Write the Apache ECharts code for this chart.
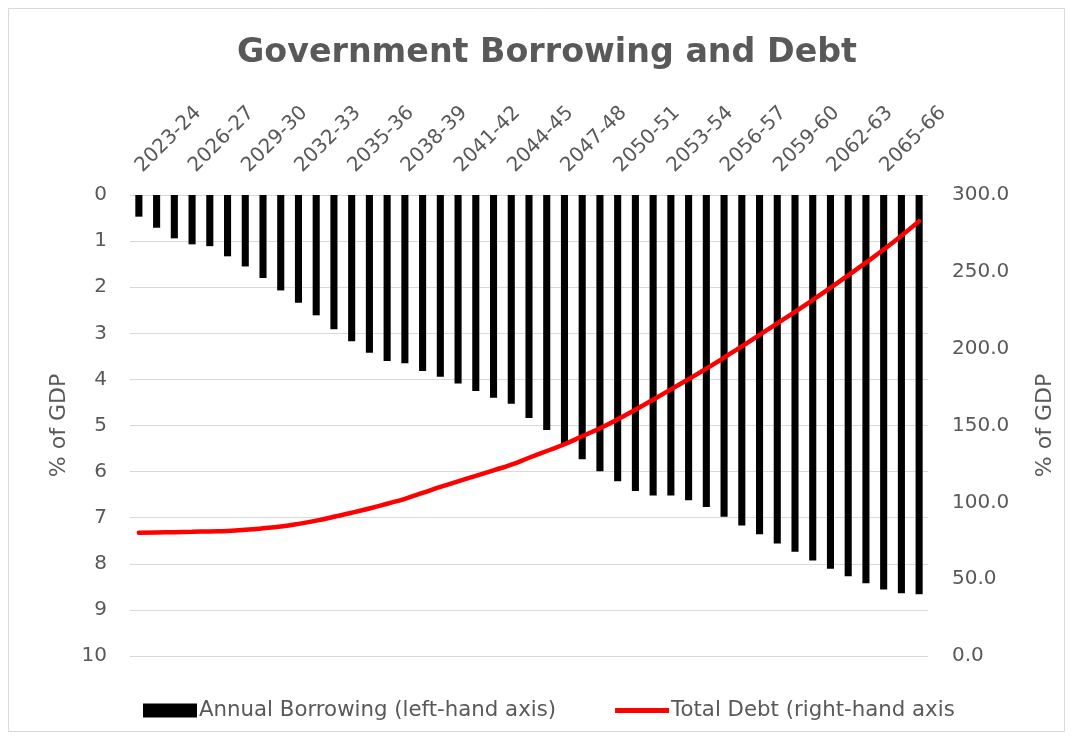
<!DOCTYPE html>
<html>
<head>
<meta charset="utf-8">
<script src="https://cdn.jsdelivr.net/npm/echarts@6/dist/echarts.min.js"></script>
<style>
html,body{margin:0;padding:0;background:#fff;}
#chart{width:1073px;height:740px;}
</style>
</head>
<body>
<div id="chart"></div>
<script>
const categories = ["2023-24","2024-25","2025-26","2026-27","2027-28","2028-29","2029-30","2030-31","2031-32","2032-33","2033-34","2034-35","2035-36","2036-37","2037-38","2038-39","2039-40","2040-41","2041-42","2042-43","2043-44","2044-45","2045-46","2046-47","2047-48","2048-49","2049-50","2050-51","2051-52","2052-53","2053-54","2054-55","2055-56","2056-57","2057-58","2058-59","2059-60","2060-61","2061-62","2062-63","2063-64","2064-65","2065-66","2066-67","2067-68"];
const annualBorrowing = [0.47,0.71,0.94,1.07,1.11,1.33,1.55,1.80,2.07,2.34,2.61,2.91,3.17,3.42,3.60,3.65,3.82,3.94,4.09,4.25,4.40,4.53,4.84,5.10,5.40,5.73,5.99,6.21,6.42,6.52,6.52,6.62,6.77,6.98,7.17,7.36,7.56,7.74,7.93,8.11,8.27,8.42,8.56,8.64,8.66];
const totalDebt = [80.2,80.4,80.6,80.8,81.1,81.4,82.1,83.1,84.3,86.0,88.1,90.6,93.2,96.0,99.1,102.3,106.1,110.0,113.7,117.2,120.8,124.5,129.0,133.4,137.8,143.0,148.2,154.0,160.3,166.8,173.5,180.2,187.0,194.2,201.5,209.0,216.5,224.0,231.7,239.6,247.7,256.0,264.5,273.5,283.0];
const titleText = "Government Borrowing and Debt";
const leftAxisName = "% of GDP";
const rightAxisName = "% of GDP";
const seriesNames = ["Annual Borrowing (left-hand axis)", "Total Debt (right-hand axis"];

const FONT = "DejaVu Sans";
const GREY = "#595959";
const chart = echarts.init(document.getElementById('chart'), null, {renderer:'canvas'});
chart.setOption({
  backgroundColor: '#fff',
  animation: false,
  textStyle: {fontFamily: FONT, color: GREY},
  title: {
    text: titleText, left: 237, top: 37, padding: 0,
    textStyle: {fontFamily: FONT, fontWeight: 'bold', fontSize: 33.3, color: GREY}
  },
  graphic: [{
    type: 'rect', shape: {x: 8.5, y: 8.5, width: 1056, height: 723},
    style: {fill: 'none', stroke: '#d9d9d9', lineWidth: 1}, silent: true
  }],
  legend: {
    bottom: 14, left: 138,
    itemGap: 59, itemWidth: 54, itemHeight: 14,
    textStyle: {fontFamily: FONT, fontSize: 21.3, color: GREY, padding: [0,0,0,-3]},
    data: [
      {name: seriesNames[0], icon: 'rect', itemStyle: {color: '#000', borderWidth: 0}},
      {name: seriesNames[1], icon: 'path://M0,0 M0,4.5 L54,4.5 L54,9.5 L0,9.5 Z M54,14', itemStyle: {color: '#ff0000', borderWidth: 0}}
    ]
  },
  grid: {left: 130, right: 145, top: 195, bottom: 84, containLabel: false},
  xAxis: {
    type: 'category', position: 'top', data: categories,
    axisLine: {show: false}, axisTick: {show: false},
    axisLabel: {interval: 2, rotate: 45, fontSize: 20, color: GREY, fontFamily: FONT, margin: 26}
  },
  yAxis: [{
    type: 'value', inverse: true, min: 0, max: 10, interval: 1,
    name: leftAxisName, nameLocation: 'middle', nameGap: 54, nameRotate: 90,
    nameTextStyle: {fontSize: 22, color: GREY, fontFamily: FONT},
    axisLine: {show: false}, axisTick: {show: false},
    axisLabel: {fontSize: 20, color: GREY, margin: 23, fontFamily: FONT},
    splitLine: {lineStyle: {color: '#d9d9d9', width: 1}}
  }, {
    type: 'value', min: 0, max: 300, interval: 50, position: 'right',
    name: rightAxisName, nameLocation: 'middle', nameGap: 106, nameRotate: 90,
    nameTextStyle: {fontSize: 22, color: GREY, fontFamily: FONT},
    axisLine: {show: false}, axisTick: {show: false},
    axisLabel: {fontSize: 20, color: GREY, margin: 24, fontFamily: FONT, formatter: v => v.toFixed(1)},
    splitLine: {show: false}
  }],
  series: [{
    name: seriesNames[0], type: 'bar', yAxisIndex: 0, data: annualBorrowing,
    barWidth: '40%', itemStyle: {color: '#000'}
  }, {
    name: seriesNames[1], type: 'line', yAxisIndex: 1, data: totalDebt,
    smooth: true, symbol: 'none', z: 5,
    lineStyle: {color: '#ff0000', width: 4.5, cap: 'round'}, itemStyle: {color: '#ff0000'}
  }]
});
</script>
</body>
</html>
